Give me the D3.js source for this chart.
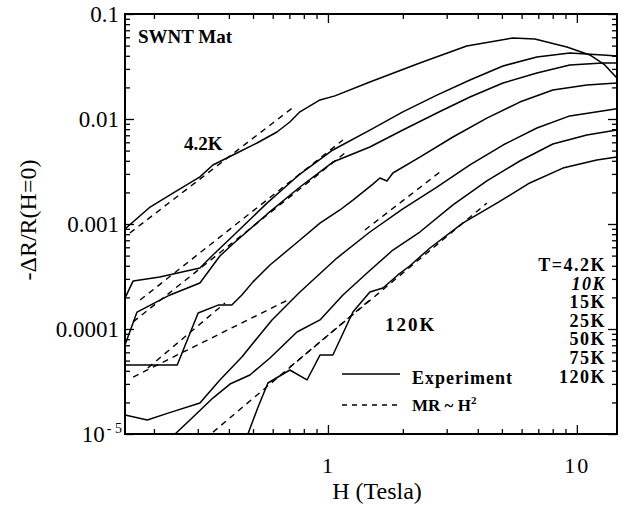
<!DOCTYPE html>
<html>
<head>
<meta charset="utf-8">
<script src="https://cdn.jsdelivr.net/npm/d3@7"></script>
<style>
  body { margin: 0; background: #fff; }
  text { font-family: "Liberation Serif", "Times New Roman", serif; fill: #000; }
</style>
</head>
<body>
<div id="chart"></div>
<script>
// magnetoresistance of the SWNT mat: [H (Tesla), -dR/R(H=0)]
const temps = ["T=4.2K", "10K", "15K", "25K", "50K", "75K", "120K"];

const mr4K = [[0.153,8.96e-4],[0.193,1.45e-3],[0.243,2.02e-3],[0.306,2.81e-3],[0.345,3.65e-3],[0.431,4.74e-3],[0.519,5.91e-3],[0.624,7.52e-3],[0.703,9.36e-3],[0.772,1.17e-2],[0.929,1.52e-2],[1.067,1.66e-2],[1.474,2.25e-2],[2.34,3.41e-2],[3.61,4.95e-2],[5.53,5.91e-2],[6.78,5.78e-2],[9.12,4.85e-2],[11.28,4.07e-2],[12.95,3.27e-2],[14.48,2.46e-2]];
const mr10K = [[0.153,1.97e-4],[0.165,2.87e-4],[0.211,3.13e-4],[0.306,3.81e-4],[0.345,5.07e-4],[0.415,7.69e-4],[0.569,1.58e-3],[0.772,2.99e-3],[1.047,5.07e-3],[1.474,7.85e-3],[2.0,1.17e-2],[2.74,1.69e-2],[3.72,2.35e-2],[5.05,3.2e-2],[6.91,3.89e-2],[9.37,4.25e-2],[12.71,4.07e-2],[14.48,3.98e-2]];
const mr15K = [[0.153,7.04e-5],[0.171,1.45e-4],[0.232,2.11e-4],[0.306,2.74e-4],[0.368,4.96e-4],[0.415,6.45e-4],[0.569,1.24e-3],[0.772,2.25e-3],[1.047,3.89e-3],[1.474,5.41e-3],[2.0,7.85e-3],[2.74,1.14e-2],[3.72,1.62e-2],[5.05,2.2e-2],[6.91,2.74e-2],[9.37,3.27e-2],[12.71,3.41e-2],[14.48,3.41e-2]];
const mr25K = [[0.153,4.54e-5],[0.248,4.54e-5],[0.301,1.42e-4],[0.362,1.69e-4],[0.411,1.69e-4],[0.451,2.11e-4],[0.5,2.81e-4],[0.585,4.07e-4],[0.772,7.04e-4],[0.929,1.02e-3],[1.117,1.36e-3],[1.26,1.69e-3],[1.516,2.4e-3],[1.617,2.74e-3],[1.726,2.57e-3],[1.824,3.06e-3],[2.34,4.34e-3],[3.18,6.74e-3],[4.35,1.02e-2],[5.9,1.45e-2],[8.01,1.89e-2],[10.97,2.11e-2],[14.48,2.2e-2]];
const mr50K = [[0.153,1.52e-5],[0.188,1.36e-5],[0.228,1.58e-5],[0.306,1.97e-5],[0.368,3.27e-5],[0.451,5.41e-5],[0.524,8.39e-5],[0.596,1.22e-4],[0.672,1.62e-4],[0.772,2.25e-4],[1.087,4.74e-4],[1.474,8.39e-4],[2.0,1.39e-3],[2.74,2.25e-3],[3.72,3.65e-3],[5.05,5.65e-3],[6.91,8.21e-3],[9.37,1.07e-2],[14.48,1.25e-2]];
const mr75K = [[0.243,1.0e-5],[0.279,1.36e-5],[0.345,2.2e-5],[0.404,2.99e-5],[0.486,3.65e-5],[0.585,5.29e-5],[0.751,9.36e-5],[0.929,1.22e-4],[1.149,2.11e-4],[1.436,3.41e-4],[1.824,5.65e-4],[2.34,8.39e-4],[3.18,1.52e-3],[4.35,2.57e-3],[5.9,3.98e-3],[8.01,5.78e-3],[10.97,7.04e-3],[14.48,7.85e-3]];
const mr120K = [[0.477,1.0e-5],[0.524,1.81e-5],[0.574,3.06e-5],[0.703,4.07e-5],[0.824,3.27e-5],[0.929,5.65e-5],[1.047,5.65e-5],[1.26,1.45e-4],[1.474,2.25e-4],[1.663,2.46e-4],[1.91,3.27e-4],[2.13,3.98e-4],[2.57,5.91e-4],[3.48,1.02e-3],[4.77,1.58e-3],[6.47,2.46e-3],[8.79,3.41e-3],[12.03,4.07e-3],[14.48,4.34e-3]];

// MR ~ H^2 guide lines, end points as drawn
const fitLines = [
  [[0.160,8.21e-4],[0.737,1.33e-2]],
  [[0.176,1.89e-4],[1.149,6.31e-3]],
  [[0.165,1.17e-4],[1.170,4.74e-3]],
  [[0.189,4.25e-5],[0.386,1.77e-4]],
  [[0.165,3.49e-5],[0.703,1.93e-4]],
  [[1.408,8.77e-4],[2.82,3.13e-3]],
  [[0.345,1.04e-5],[1.474,1.89e-4]],
  [[0.703,4.34e-5],[4.35,1.58e-3]]
];

const yTickLabels = ["10", "0.0001", "0.001", "0.01", "0.1"];
const yMajor = [1e-5, 1e-4, 1e-3, 1e-2, 1e-1];
const xMajor = [1, 10];

const width = 625, height = 510;
const pLeft = 125, pTop = 14, pRight = 617, pBottom = 434;

const svg = d3.select("#chart").append("svg")
    .attr("width", width)
    .attr("height", height);

const x = d3.scaleLog().domain([0.153, 14.5]).range([pLeft, pRight]);
const y = d3.scaleLog().domain([1e-5, 0.1]).range([pBottom, pTop]);

const xMinor = x.ticks().filter(d => xMajor.indexOf(d) < 0);
const yMinor = y.ticks().filter(d => yMajor.indexOf(d) < 0);

svg.append("defs").append("clipPath").attr("id", "plot")
  .append("rect")
    .attr("x", pLeft).attr("y", pTop)
    .attr("width", pRight - pLeft).attr("height", pBottom - pTop);

// ticks on all four sides, pointing inward
function tickAxis(axis, tr, values, size, fmt) {
  const g = svg.append("g")
      .attr("transform", tr)
      .call(axis.tickValues(values).tickSize(size).tickFormat(fmt || ""));
  g.select(".domain").remove();
  g.selectAll("line").attr("stroke", "#000").attr("stroke-width", 1.3);
  return g;
}

const bx = tickAxis(d3.axisBottom(x).tickPadding(23), `translate(0,${pBottom})`, xMajor, -9, d => d3.format("d")(d));
bx.selectAll("text").attr("font-size", "22px").attr("letter-spacing", "2px");
tickAxis(d3.axisBottom(x), `translate(0,${pBottom})`, xMinor, -5);
tickAxis(d3.axisTop(x), `translate(0,${pTop})`, xMajor, -9);
tickAxis(d3.axisTop(x), `translate(0,${pTop})`, xMinor, -5);

const ly = tickAxis(d3.axisLeft(y).tickPadding(6), `translate(${pLeft},0)`, yMajor, -9,
    d => yTickLabels[yMajor.indexOf(d)]);
ly.selectAll("text").attr("font-size", "23px");
ly.selectAll("text").filter(d => d === 1e-5)
    .attr("x", -3)
  .append("tspan").attr("font-size", "14px").attr("dy", "-0.6em").attr("dx", "2").text("- 5");
tickAxis(d3.axisLeft(y), `translate(${pLeft},0)`, yMinor, -5);
tickAxis(d3.axisRight(y), `translate(${pRight},0)`, yMajor, -9);
tickAxis(d3.axisRight(y), `translate(${pRight},0)`, yMinor, -5);

svg.append("rect")
    .attr("x", pLeft).attr("y", pTop)
    .attr("width", pRight - pLeft).attr("height", pBottom - pTop)
    .attr("fill", "none")
    .attr("stroke", "#000")
    .attr("stroke-width", 2);

const line = d3.line().x(d => x(d[0])).y(d => y(d[1]));

const plot = svg.append("g").attr("clip-path", "url(#plot)");

plot.selectAll(".fit")
  .data(fitLines)
  .enter().append("path")
    .attr("class", "fit")
    .attr("d", line)
    .attr("fill", "none")
    .attr("stroke", "#000")
    .attr("stroke-width", 1.4)
    .attr("stroke-dasharray", "6,5");

plot.selectAll(".exp")
  .data([mr4K, mr10K, mr15K, mr25K, mr50K, mr75K, mr120K])
  .enter().append("path")
    .attr("class", "exp")
    .attr("d", line)
    .attr("fill", "none")
    .attr("stroke", "#000")
    .attr("stroke-width", 1.5)
    .attr("stroke-linejoin", "round");

// labels inside the frame
svg.append("text")
    .attr("x", 138).attr("y", 43)
    .attr("font-size", "19px").attr("font-weight", "bold")
    .text("SWNT Mat");

svg.append("text")
    .attr("x", 184).attr("y", 150)
    .attr("font-size", "19px").attr("font-weight", "bold")
    .text("4.2K");

svg.append("text")
    .attr("x", 385).attr("y", 331)
    .attr("font-size", "19px").attr("font-weight", "bold")
    .attr("letter-spacing", "2px")
    .text("120K");

svg.append("g").selectAll("text")
  .data(temps)
  .enter().append("text")
    .attr("x", 606)
    .attr("y", (d, i) => 271 + i * 18.6)
    .attr("text-anchor", "end")
    .attr("font-size", "18px")
    .attr("font-weight", "bold")
    .attr("font-style", d => d === "10K" ? "italic" : "normal")
    .attr("letter-spacing", "1.5px")
    .text(d => d);

// legend
svg.append("line")
    .attr("x1", 342).attr("x2", 400).attr("y1", 374).attr("y2", 374)
    .attr("stroke", "#000").attr("stroke-width", 1.5);
svg.append("text")
    .attr("x", 412).attr("y", 384)
    .attr("font-size", "18px").attr("font-weight", "bold")
    .attr("letter-spacing", "1px")
    .text("Experiment");
svg.append("line")
    .attr("x1", 342).attr("x2", 398).attr("y1", 405).attr("y2", 405)
    .attr("stroke", "#000").attr("stroke-width", 1.4)
    .attr("stroke-dasharray", "5,5");
const mrLabel = svg.append("text")
    .attr("x", 412).attr("y", 411)
    .attr("font-size", "17px").attr("font-weight", "bold")
    .text("MR ~ H");
mrLabel.append("tspan").attr("font-size", "11px").attr("dy", "-7").text("2");

// axis titles
svg.append("text")
    .attr("x", 377).attr("y", 499)
    .attr("text-anchor", "middle")
    .attr("font-size", "24px")
    .text("H (Tesla)");

svg.append("text")
    .attr("transform", "translate(36,220) rotate(-90)")
    .attr("text-anchor", "middle")
    .attr("font-size", "24px")
    .text("-ΔR/R(H=0)");
</script>
</body>
</html>
